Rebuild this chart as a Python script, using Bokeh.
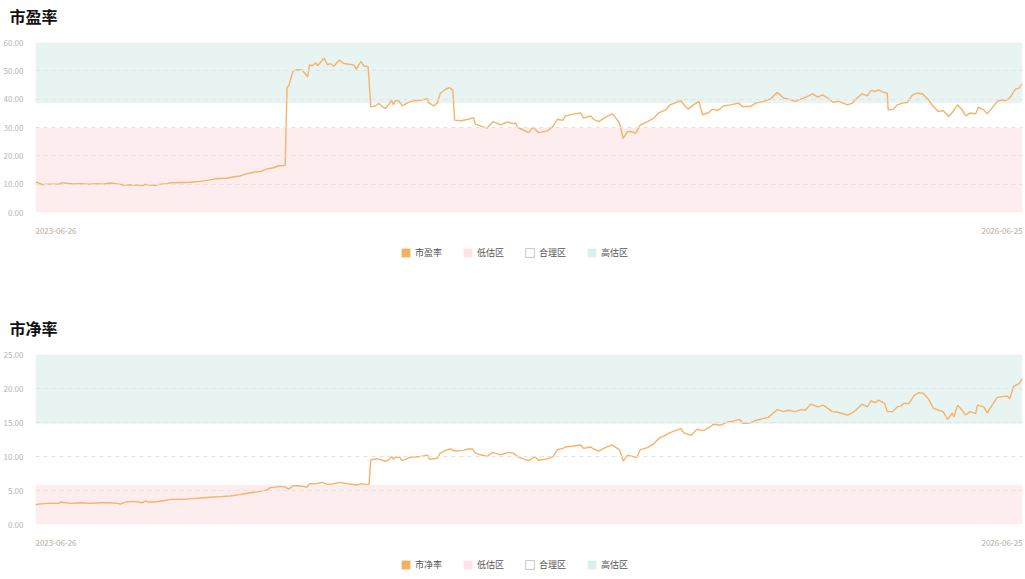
import pandas as pd
from bokeh.plotting import figure
from bokeh.models import (Range1d, FixedTicker, NumeralTickFormatter,
                          Legend, LegendItem, ColumnDataSource, Label)
from bokeh.layouts import column
from bokeh.embed import file_html
from bokeh.resources import INLINE

# ---------------- data ----------------
start_date = "2023-06-26"
end_date = "2026-06-25"

# 市盈率 (PE): days since start_date, value
pe_days = [0, 2, 8, 13, 26, 29, 42, 50, 59, 69,
           75, 83, 91, 98, 109, 119, 122, 125, 133, 139,
           146, 150, 161, 172, 183, 194, 202, 213, 220, 227,
           235, 242, 250, 257, 264, 270, 275, 277, 279, 281,
           283, 286, 291, 296, 297, 302, 304, 307, 311, 313,
           320, 324, 327, 331, 337, 342, 346, 353, 356, 361,
           364, 369, 372, 377, 381, 385, 388, 392, 395, 397,
           399, 403, 407, 413, 419, 427, 435, 436, 442, 446,
           449, 455, 459, 463, 465, 472, 480, 486, 488, 494,
           501, 508, 516, 524, 529, 533, 535, 541, 547, 552,
           558, 568, 574, 579, 585, 588, 597, 605, 608, 616,
           619, 625, 632, 640, 644, 648, 652, 657, 660, 666,
           671, 679, 686, 691, 699, 704, 716, 721, 724, 730,
           736, 740, 747, 751, 757, 763, 771, 780, 784, 793,
           799, 808, 815, 823, 830, 838, 843, 849, 856, 862,
           868, 873, 879, 885, 891, 901, 906, 910, 917, 923,
           927, 932, 935, 941, 945, 946, 952, 956, 962, 967,
           973, 978, 984, 990, 996, 1002, 1007, 1013, 1017, 1023,
           1028, 1032, 1037, 1043, 1046, 1052, 1056, 1062, 1067, 1073,
           1076, 1079, 1082, 1087, 1091, 1095]
pe_vals = [10.5, 10.6, 9.8, 10.0, 10.0, 10.5, 10.1, 10.2, 10.0, 10.2,
           10.0, 10.4, 10.1, 9.7, 9.8, 9.5, 10.0, 9.7, 9.6, 10.0,
           10.2, 10.5, 10.6, 10.7, 11.0, 11.5, 12.0, 12.1, 12.6, 12.9,
           13.7, 14.2, 14.5, 15.4, 15.8, 16.5, 16.6, 16.7, 44.1, 44.7,
           47.0, 50.0, 50.4, 50.2, 49.8, 47.9, 52.1, 51.8, 52.8, 51.8,
           54.5, 52.1, 52.6, 51.6, 53.8, 52.6, 52.4, 52.1, 50.6, 53.3,
           51.8, 51.5, 37.3, 37.6, 38.5, 37.3, 36.7, 38.2, 39.6, 38.0,
           39.4, 39.4, 37.6, 38.8, 39.4, 39.6, 40.2, 38.8, 37.6, 38.8,
           42.0, 43.5, 44.1, 43.2, 32.6, 32.4, 32.9, 33.5, 31.2, 30.5,
           29.8, 32.1, 30.9, 32.0, 31.4, 31.5, 30.0, 29.2, 28.2, 30.1,
           28.2, 28.8, 30.4, 32.9, 32.5, 34.1, 34.7, 35.1, 33.3, 34.1,
           32.9, 32.1, 33.6, 34.8, 33.3, 31.5, 26.2, 28.6, 28.6, 28.0,
           30.9, 32.1, 33.3, 35.1, 36.2, 38.0, 39.5, 37.4, 36.5, 38.0,
           39.2, 34.5, 35.3, 36.5, 36.0, 37.6, 38.0, 38.6, 37.4, 37.4,
           38.6, 39.2, 40.0, 42.4, 40.4, 39.8, 39.2, 40.0, 40.9, 41.9,
           40.7, 41.5, 40.4, 38.9, 39.2, 38.0, 38.6, 40.0, 41.9, 41.2,
           43.1, 42.7, 43.3, 42.4, 42.1, 36.2, 36.5, 38.0, 38.6, 38.8,
           41.5, 42.1, 41.9, 40.0, 37.4, 35.6, 36.0, 33.9, 35.3, 38.0,
           36.2, 34.1, 35.1, 34.8, 37.2, 36.2, 34.8, 37.2, 39.2, 39.8,
           39.5, 40.0, 40.9, 43.5, 43.9, 45.4]

# 市净率 (PB)
pb_days = [0, 3, 13, 26, 28, 39, 50, 61, 72, 83,
           91, 94, 100, 109, 119, 122, 125, 131, 142, 150,
           164, 175, 183, 194, 205, 216, 227, 235, 246, 257,
           261, 266, 272, 277, 281, 286, 292, 297, 301, 304,
           311, 318, 324, 331, 338, 346, 357, 361, 366, 370,
           372, 379, 388, 392, 395, 397, 399, 404, 407, 416,
           427, 435, 437, 446, 449, 455, 460, 466, 475, 480,
           485, 488, 494, 501, 507, 516, 524, 530, 535, 541,
           547, 554, 558, 568, 574, 579, 585, 588, 597, 605,
           608, 616, 619, 625, 632, 640, 644, 648, 652, 657,
           660, 667, 671, 679, 686, 693, 697, 704, 716, 719,
           727, 734, 741, 749, 752, 760, 768, 774, 781, 785,
           793, 799, 808, 813, 823, 830, 835, 843, 849, 854,
           860, 868, 874, 884, 890, 901, 906, 910, 917, 923,
           927, 932, 935, 942, 945, 951, 956, 960, 963, 969,
           975, 980, 985, 991, 996, 1002, 1007, 1012, 1017, 1019,
           1023, 1028, 1032, 1037, 1043, 1045, 1052, 1056, 1062, 1067,
           1073, 1078, 1081, 1085, 1091, 1095]
pb_vals = [2.9, 3.0, 3.1, 3.1, 3.3, 3.1, 3.2, 3.1, 3.2, 3.2,
           3.1, 3.0, 3.3, 3.4, 3.2, 3.5, 3.3, 3.3, 3.5, 3.7,
           3.7, 3.8, 3.9, 4.0, 4.1, 4.2, 4.4, 4.6, 4.8, 5.1,
           5.45, 5.5, 5.6, 5.5, 5.2, 5.7, 5.7, 5.6, 5.45, 6.0,
           6.0, 6.2, 5.9, 6.0, 6.2, 6.0, 5.8, 6.0, 5.9, 5.9,
           9.5, 9.7, 9.3, 9.5, 10.0, 9.6, 9.9, 9.9, 9.4, 9.9,
           10.0, 10.2, 9.6, 9.75, 10.5, 10.9, 11.1, 10.8, 10.9, 11.1,
           11.1, 10.5, 10.25, 10.0, 10.6, 10.25, 10.6, 10.5, 10.0, 9.65,
           9.4, 9.95, 9.45, 9.65, 9.95, 11.0, 11.2, 11.4, 11.55, 11.7,
           11.2, 11.4, 11.1, 10.8, 11.3, 11.7, 11.3, 11.0, 9.35, 10.2,
           10.1, 9.85, 11.0, 11.3, 11.9, 12.8, 13.0, 13.5, 14.1, 13.5,
           13.1, 14.0, 13.8, 14.4, 14.75, 14.6, 15.1, 15.2, 15.45, 14.85,
           14.95, 15.3, 15.6, 15.75, 16.9, 16.6, 16.8, 16.6, 16.9, 16.8,
           17.7, 17.3, 17.55, 16.6, 16.5, 16.1, 16.4, 16.8, 17.7, 17.3,
           18.2, 17.9, 18.3, 17.8, 16.6, 16.6, 17.3, 17.4, 17.8, 17.8,
           19.0, 19.4, 19.3, 18.4, 17.1, 16.8, 16.6, 15.45, 16.4, 15.8,
           17.55, 16.8, 16.1, 16.6, 16.3, 17.55, 17.3, 16.4, 17.7, 18.7,
           18.8, 18.9, 18.5, 20.3, 20.7, 21.5]

pe_low_zone = [0, 29.8]
pe_high_zone = [38.6, 60]
pb_low_zone = [0, 5.8]
pb_high_zone = [14.8, 25]

pe_ticks = [0, 10, 20, 30, 40, 50, 60]
pb_ticks = [0, 5, 10, 15, 20, 25]

legend_labels_pe = ["市盈率", "低估区", "合理区", "高估区"]
legend_labels_pb = ["市净率", "低估区", "合理区", "高估区"]

assert len(pe_days) == len(pe_vals)
assert len(pb_days) == len(pb_vals)

# ---------------- styles ----------------
LINE = "#f6b26a"
LEG_LINE = "#f4b160"
LOW_BAND = "#fdedee"
HIGH_BAND = "#e8f4f1"
LEG_LOW = "#fde3e6"
LEG_HIGH = "#dcf0eb"
FONT = "Noto Sans CJK SC"
W = 1025

t0 = pd.Timestamp(start_date)
t1 = pd.Timestamp(end_date)
# the date labels are drawn flush with the ends of the plot: shift their anchor half a label width
label_shift = pd.Timedelta(hours=546)


def ms(ts):
    return int(ts.value // 10**6)


def blank(height):
    q = figure(width=W, height=height, x_range=Range1d(0, W), y_range=Range1d(0, height),
               x_axis_location=None, y_axis_location=None,
               output_backend="svg", toolbar_location=None, frame_align=False,
               min_border_left=0, min_border_right=0, min_border_top=0, min_border_bottom=0)
    q.grid.visible = False
    q.outline_line_color = None
    return q


def make_title(text):
    q = blank(30)
    q.add_layout(Label(x=9, y=15, text=text, text_baseline="middle", text_align="left",
                       text_font=FONT, text_font_size="16px", text_font_style="bold",
                       text_color="#111111"))
    return q


def make_chart(days, vals, low, high, ticks):
    dates = [t0 + pd.Timedelta(days=d) for d in days]
    ymax = ticks[-1]
    p = figure(width=W, height=212, x_axis_type="datetime",
               x_range=Range1d(t0, t1), y_range=Range1d(0, ymax),
               output_backend="svg", toolbar_location=None,
               min_border_left=35, min_border_right=3, min_border_top=12,
               min_border_bottom=30)
    p.outline_line_color = None
    p.background_fill_color = "white"
    p.xgrid.visible = False

    ya = p.yaxis[0]
    ya.ticker = FixedTicker(ticks=ticks)
    ya.formatter = NumeralTickFormatter(format="0.00")
    ya.axis_line_color = None
    ya.major_tick_line_color = None
    ya.minor_tick_line_color = None
    ya.major_label_text_font = FONT
    ya.major_label_text_font_size = "8px"
    ya.major_label_text_color = "#b4b4b4"
    ya.major_label_standoff = 6

    xa = p.xaxis[0]
    a0 = ms(t0 + label_shift)
    a1 = ms(t1 - label_shift)
    xa.ticker = FixedTicker(ticks=[a0, a1])
    xa.major_label_overrides = {a0: start_date, a1: end_date}
    xa.axis_line_color = None
    xa.major_tick_line_color = None
    xa.minor_tick_line_color = None
    xa.major_tick_in = 0
    xa.major_tick_out = 0
    xa.major_label_standoff = 15
    xa.major_label_text_font = FONT
    xa.major_label_text_font_size = "8px"
    xa.major_label_text_color = "#b8aca0"

    g = p.ygrid[0]
    g.ticker = FixedTicker(ticks=ticks)
    g.grid_line_color = "#e2e2e2"
    g.grid_line_dash = "4 4"
    g.level = "glyph"

    p.quad(left=[t0], right=[t1], bottom=[low[0]], top=[low[1]],
           fill_color=LOW_BAND, line_color=None, level="underlay")
    p.quad(left=[t0], right=[t1], bottom=[high[0]], top=[high[1]],
           fill_color=HIGH_BAND, line_color=None, level="underlay")
    p.line(dates, vals, line_color=LINE, line_width=1.4)
    return p


def make_legend(names, height, y_from_bottom):
    q = blank(height)
    # legend swatches only: one off-screen row each, so the legend can draw them
    def swatch():
        return ColumnDataSource(dict(left=[-20], right=[-10], top=[-10], bottom=[-20]))
    kw = dict(left="left", right="right", top="top", bottom="bottom")
    r1 = q.quad(source=swatch(), fill_color=LEG_LINE, line_color=None, **kw)
    r2 = q.quad(source=swatch(), fill_color=LEG_LOW, line_color=None, **kw)
    r3 = q.quad(source=swatch(), fill_color="white", line_color="#c8c8c8", line_width=1, **kw)
    r4 = q.quad(source=swatch(), fill_color=LEG_HIGH, line_color=None, **kw)
    items = [LegendItem(label=n, renderers=[r]) for n, r in zip(names, [r1, r2, r3, r4])]
    leg = Legend(items=items, location=(400, y_from_bottom), orientation="horizontal")
    leg.label_text_font = FONT
    leg.label_text_font_size = "9px"
    leg.label_text_color = "#555555"
    leg.glyph_width = 11
    leg.glyph_height = 11
    leg.label_height = 11
    leg.label_standoff = 4
    leg.spacing = 20
    leg.padding = 0
    leg.margin = 0
    leg.border_line_color = None
    leg.background_fill_alpha = 0
    q.add_layout(leg, "center")
    return q


t_1 = make_title("市盈率")
p1 = make_chart(pe_days, pe_vals, pe_low_zone, pe_high_zone, pe_ticks)
l1 = make_legend(legend_labels_pe, 70, 70 - 17)
t_2 = make_title("市净率")
p2 = make_chart(pb_days, pb_vals, pb_low_zone, pb_high_zone, pb_ticks)
l2 = make_legend(legend_labels_pb, 25, 25 - 17)

layout = column(t_1, p1, l1, t_2, p2, l2, spacing=0)
open("out.html", "w").write(file_html(layout, INLINE))
